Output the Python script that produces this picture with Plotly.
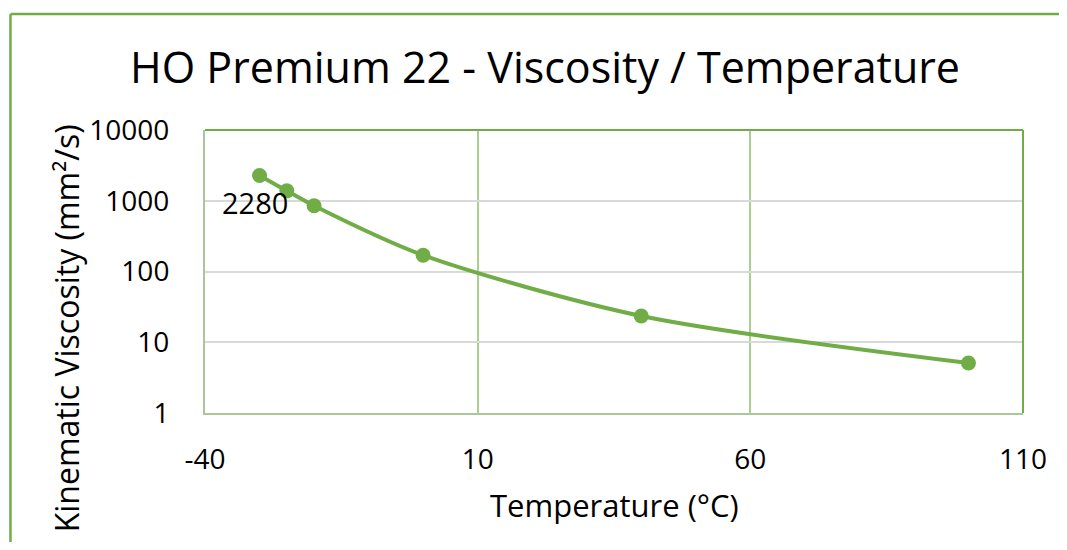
import plotly.graph_objects as go
import math

temps = [-30, -25, -20, 0, 40, 100]
visc = [2280, 1380, 850, 170, 23.5, 5.1]
x_ticks = [-40, 10, 60, 110]
y_ticks = [1, 10, 100, 1000, 10000]
label_text = "2280"

GREEN = "#70AD47"
FONT = "Open Sans"

# page is rendered with an 8px body margin; compensate and avoid overflow
OFF = 8
W, H = 1067 - 2 * OFF, 550 - 2 * OFF
L, T = 205 - OFF, 130 - OFF
R = W - (1025 - OFF)
B = H - (413 - OFF)
pw, ph = W - L - R, H - T - B

def px_x(p):  # page px -> paper x
    return (p - OFF - L) / pw

def px_y(p):  # page px -> paper y
    return (H - B - (p - OFF)) / ph

fig = go.Figure()
fig.add_trace(go.Scatter(
    x=temps, y=visc, mode="lines+markers",
    line=dict(color=GREEN, width=4, shape="spline", smoothing=0.8),
    marker=dict(color=GREEN, size=15),
    showlegend=False, cliponaxis=False,
))

fig.add_annotation(x=temps[0], y=math.log10(visc[0]), text=label_text,
                   showarrow=False, xshift=-5, yshift=-27,
                   font=dict(family=FONT, size=29, color="black"))

fig.update_layout(
    width=W, height=H,
    margin=dict(l=L, r=R, t=T, b=B),
    paper_bgcolor="white", plot_bgcolor="white",
    font=dict(family=FONT, color="black"),
    title=dict(text="HO Premium 22 - Viscosity / Temperature",
               x=(545 - OFF) / W, y=1 - (68 - OFF) / H, xanchor="center", yanchor="middle",
               font=dict(family=FONT, size=43, color="black")),
    xaxis=dict(range=[-40, 110], tickvals=x_ticks, ticktext=[str(v) for v in x_ticks],
               showgrid=True, gridcolor="#A9D08E", gridwidth=1.5,
               zeroline=False, showline=True, linecolor="#A9C79A", linewidth=2,
               ticks="", ticklabelstandoff=20,
               tickfont=dict(family=FONT, size=28, color="black")),
    yaxis=dict(type="log", range=[0, 4], tickvals=y_ticks, ticktext=[str(v) for v in y_ticks],
               showgrid=True, gridcolor="#D9D9D9", gridwidth=1.5,
               zeroline=False, showline=True, linecolor="#A9C79A", linewidth=2,
               ticks="", ticklabelstandoff=28,
               tickfont=dict(family=FONT, size=28, color="black")),
)

# top / right plot border (green)
fig.add_shape(type="line", xref="paper", yref="paper", x0=0, x1=1, y0=1, y1=1,
              line=dict(color=GREEN, width=2))
fig.add_shape(type="line", xref="paper", yref="paper", x0=1, x1=1, y0=0, y1=1,
              line=dict(color=GREEN, width=2))
# outer chart frame: top and left edges only (others run off the page)
fig.add_shape(type="line", xref="paper", yref="paper",
              x0=px_x(10), x1=px_x(1120), y0=px_y(14), y1=px_y(14),
              line=dict(color=GREEN, width=2.5), layer="above")
fig.add_shape(type="line", xref="paper", yref="paper",
              x0=px_x(10), x1=px_x(10), y0=px_y(14), y1=px_y(600),
              line=dict(color=GREEN, width=2.5), layer="above")

fig.add_annotation(xref="paper", yref="paper", x=px_x(615), y=px_y(505),
                   text="Temperature (°C)", showarrow=False,
                   xanchor="center", yanchor="middle",
                   font=dict(family=FONT, size=31, color="black"))
fig.add_annotation(xref="paper", yref="paper", x=px_x(66), y=px_y(328),
                   text="Kinematic Viscosity (mm²/s)", showarrow=False, textangle=-90,
                   xanchor="center", yanchor="middle",
                   font=dict(family=FONT, size=32, color="black"))

fig.write_html("out.html")
